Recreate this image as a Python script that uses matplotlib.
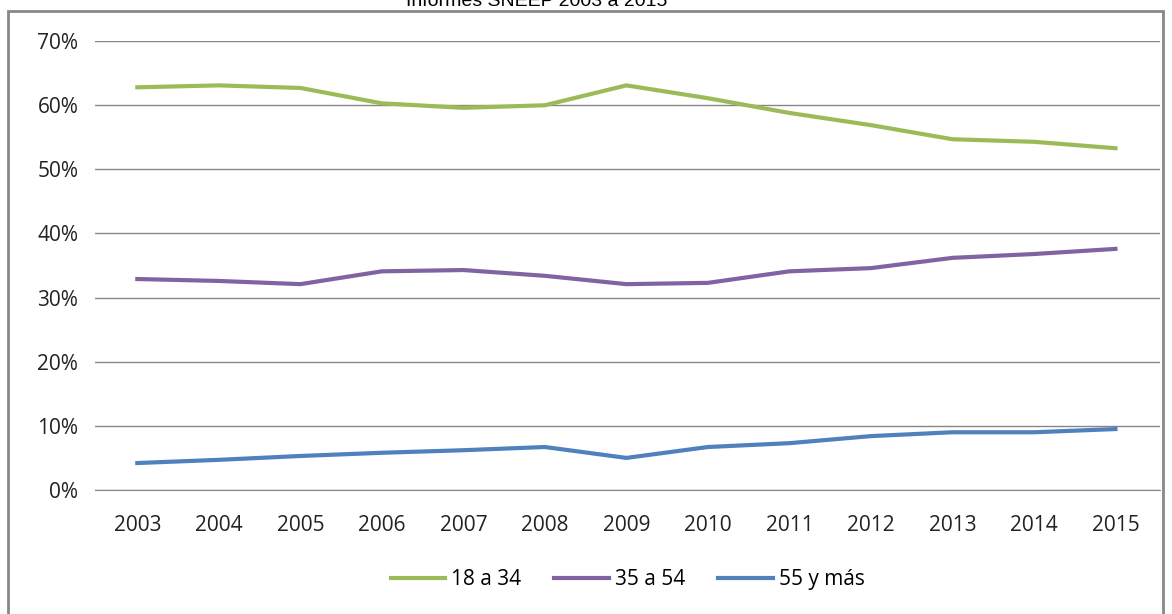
import matplotlib.pyplot as plt
from matplotlib.patches import Rectangle
from matplotlib.ticker import FuncFormatter

years = [2003, 2004, 2005, 2006, 2007, 2008, 2009, 2010, 2011, 2012, 2013, 2014, 2015]
jovenes = [62.8, 63.1, 62.7, 60.3, 59.6, 60.0, 63.1, 61.1, 58.8, 56.9, 54.7, 54.3, 53.3]
medios = [32.9, 32.6, 32.1, 34.1, 34.3, 33.4, 32.1, 32.3, 34.1, 34.6, 36.2, 36.8, 37.6]
mayores = [4.2, 4.7, 5.3, 5.8, 6.2, 6.7, 5.0, 6.7, 7.3, 8.4, 9.0, 9.0, 9.5]

plt.rcParams['font.family'] = ['Open Sans', 'DejaVu Sans']

fig = plt.figure(figsize=(11.72, 6.14), dpi=100)
ax = fig.add_axes([0.081, 0.202, 0.909, 0.731])

ax.plot(years, jovenes, color='#9BBB59', lw=3, label='18 a 34')
ax.plot(years, medios, color='#8064A2', lw=3, label='35 a 54')
ax.plot(years, mayores, color='#4F81BD', lw=3, label='55 y más')

ax.set_ylim(0, 70)
ax.set_xlim(2002.48, 2015.55)
ax.set_yticks(range(0, 71, 10))
ax.yaxis.set_major_formatter(FuncFormatter(lambda v, p: f'{int(v)}%'))
ax.set_xticks(years)
ax.grid(axis='y', color='#868686', lw=1)
ax.set_axisbelow(True)
for s in ['top', 'right', 'left']:
    ax.spines[s].set_visible(False)
ax.spines['bottom'].set_color('#868686')
ax.tick_params(length=0, labelsize=15, colors='#222222')
ax.tick_params(axis='x', pad=18)
ax.tick_params(axis='y', pad=12)

ax.legend(loc='upper center', bbox_to_anchor=(0.5, -0.135), ncol=3, frameon=False,
          fontsize=15, handlelength=2.6, handletextpad=0.3, columnspacing=1.6)

fig.patches.append(Rectangle((0.007, -0.01), 0.985, 0.992, transform=fig.transFigure,
                             fill=False, edgecolor='#888888', lw=2))
fig.text(0.458, 0.998, 'Informes SNEEP 2003 a 2015', ha='center', va='center',
         fontsize=14, family='Liberation Sans')

fig.savefig('out.png')
